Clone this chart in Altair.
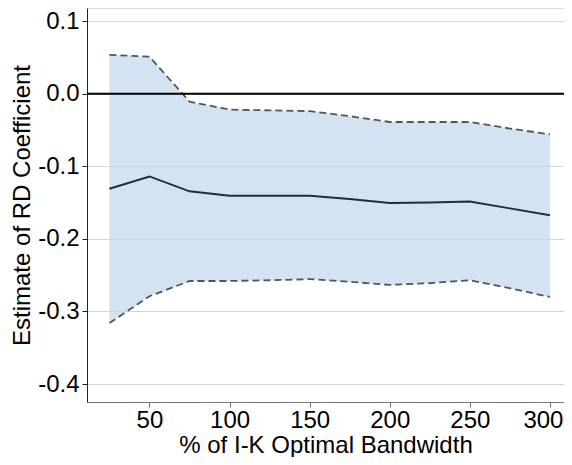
import altair as alt
import pandas as pd

bandwidth = [25, 50, 75, 100, 125, 150, 175, 200, 225, 250, 275, 300]
estimate = [-0.131, -0.114, -0.1345, -0.1405, -0.1405, -0.1405, -0.145, -0.1506, -0.150, -0.1485, -0.158, -0.1676]
upper = [0.0535, 0.051, -0.011, -0.022, -0.023, -0.024, -0.031, -0.039, -0.039, -0.039, -0.048, -0.056]
lower = [-0.316, -0.279, -0.258, -0.258, -0.257, -0.2555, -0.259, -0.2635, -0.261, -0.257, -0.268, -0.280]

x_ticks = [50, 100, 150, 200, 250, 300]
y_ticks = [-0.4, -0.3, -0.2, -0.1, 0.0, 0.1]

df = pd.DataFrame({"bw": bandwidth, "est": estimate, "hi": upper, "lo": lower})

FONT = "Liberation Sans"

xs = alt.Scale(domain=[11, 308.8], nice=False, zero=False)
ys = alt.Scale(domain=[-0.4247, 0.118], nice=False, zero=False)

xaxis = alt.Axis(values=x_ticks, title="% of I-K Optimal Bandwidth", grid=False,
                 labelFontSize=24, titleFontSize=24, labelFont=FONT, titleFont=FONT,
                 labelColor="black", titleColor="black", titleFontWeight="normal",
                 domainColor="#777777", tickColor="#777777", tickSize=5, labelPadding=1,
                 labelOffset={"condition": {"test": "datum.value === 300", "value": -7}, "value": 0},
                 titlePadding=1, labelFlush=False)
yaxis = alt.Axis(values=y_ticks, title="Estimate of RD Coefficient", grid=True,
                 labelExpr="datum.value < -0.00001 ? '-' + format(-datum.value, '.1f') : format(datum.value, '.1f')",
                 gridColor="#d4d4d4", gridWidth=1,
                 labelFontSize=24, titleFontSize=24, labelFont=FONT, titleFont=FONT,
                 labelColor="black", titleColor="black", titleFontWeight="normal",
                 domainColor="#222222", tickColor="#222222", tickSize=5, labelPadding=3,
                 titlePadding=3)

base = alt.Chart(df)

band = base.mark_area(color="#c5d9ec", opacity=0.75).encode(
    x=alt.X("bw:Q", scale=xs, axis=xaxis),
    y=alt.Y("hi:Q", scale=ys, axis=yaxis),
    y2="lo:Q",
)

hi_line = base.mark_line(color="#555555", strokeDash=[7, 4], strokeWidth=1.8).encode(
    x=alt.X("bw:Q", scale=xs), y=alt.Y("hi:Q", scale=ys))
lo_line = base.mark_line(color="#555555", strokeDash=[7, 4], strokeWidth=1.8).encode(
    x=alt.X("bw:Q", scale=xs), y=alt.Y("lo:Q", scale=ys))
est_line = base.mark_line(color="#1f2d3d", strokeWidth=2).encode(
    x=alt.X("bw:Q", scale=xs), y=alt.Y("est:Q", scale=ys))

zero = alt.Chart(pd.DataFrame({"z": [0.0]})).mark_rule(color="black", strokeWidth=2).encode(
    y=alt.Y("z:Q", scale=ys))

chart = alt.layer(band, hi_line, lo_line, zero, est_line).properties(
    width=477, height=394,
    autosize=alt.AutoSizeParams(type="none"),
    padding={"left": 79, "top": 0, "right": 0, "bottom": 55},
).configure_view(stroke=None).configure(background="white")

chart.save("out.html", embed_options={"renderer": "svg", "actions": False})
